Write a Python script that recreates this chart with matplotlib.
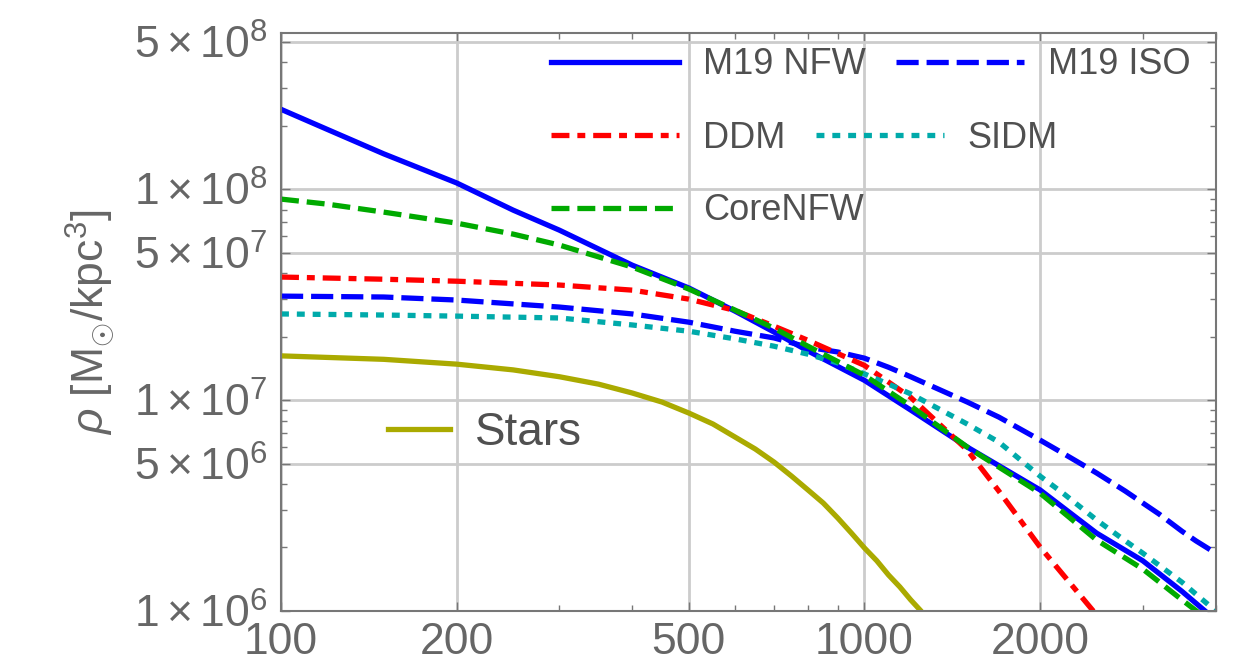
import matplotlib
matplotlib.use('Agg')
import matplotlib.pyplot as plt
from matplotlib.ticker import NullFormatter

plt.rcParams['font.family'] = 'Liberation Sans'
plt.rcParams['mathtext.fontset'] = 'custom'
plt.rcParams['mathtext.rm'] = 'Liberation Sans'
plt.rcParams['mathtext.it'] = 'Liberation Sans:italic'

# density profiles (r in pc, rho in Msun/kpc^3)
r_nfw = [100, 120, 150, 200, 250, 300, 400, 500, 600, 700, 800, 1000, 1200,
         1500, 2000, 2500, 3000, 3500, 4000]
rho_nfw = [2.39e8, 1.92e8, 1.47e8, 1.07e8, 7.95e7, 6.39e7, 4.36e7, 3.40e7,
           2.64e7, 2.10e7, 1.71e7, 1.24e7, 8.97e6, 5.99e6, 3.75e6, 2.34e6,
           1.73e6, 1.24e6, 0.906e6]

r_iso = [100, 150, 200, 300, 400, 500, 600, 700, 800, 900, 1000, 1100, 1200,
         1500, 1700, 2000, 2200, 2500, 2800, 3000, 3200, 3500, 3700, 4000]
rho_iso = [3.11e7, 3.08e7, 2.98e7, 2.76e7, 2.56e7, 2.34e7, 2.12e7, 1.97e7,
           1.78e7, 1.69e7, 1.58e7, 1.43e7, 1.29e7, 9.79e6, 8.30e6, 6.46e6,
           5.55e6, 4.51e6, 3.70e6, 3.25e6, 2.88e6, 2.39e6, 2.15e6, 1.88e6]

r_ddm = [100, 150, 200, 300, 400, 500, 600, 700, 800, 1000, 1200, 1500, 1700,
         2000, 2500]
rho_ddm = [3.83e7, 3.74e7, 3.66e7, 3.51e7, 3.32e7, 3.01e7, 2.66e7, 2.24e7,
           1.92e7, 1.46e7, 1.03e7, 5.80e6, 3.70e6, 2.01e6, 0.957e6]

r_sidm = [100, 150, 200, 300, 400, 500, 600, 700, 800, 900, 1000, 1100, 1200,
          1500, 1700, 2000, 2200, 2500, 2800, 3000, 3500, 4000]
rho_sidm = [2.56e7, 2.53e7, 2.50e7, 2.45e7, 2.27e7, 2.12e7, 1.95e7, 1.80e7,
            1.65e7, 1.50e7, 1.33e7, 1.19e7, 1.07e7, 7.70e6, 6.32e6, 4.36e6,
            3.58e6, 2.70e6, 2.15e6, 1.88e6, 1.37e6, 1.0e6]

r_core = [100, 120, 150, 200, 250, 300, 400, 500, 600, 700, 800, 1000, 1200,
          1500, 2000, 2500, 3000, 3500, 4000]
rho_core = [8.97e7, 8.49e7, 7.78e7, 6.90e7, 6.12e7, 5.43e7, 4.27e7, 3.36e7,
            2.67e7, 2.19e7, 1.80e7, 1.31e7, 9.37e6, 5.99e6, 3.62e6, 2.17e6,
            1.58e6, 1.13e6, 0.85e6]

r_stars = [100, 150, 200, 250, 300, 350, 400, 450, 500, 550, 600, 650, 700,
           750, 800, 850, 900, 950, 1000, 1050, 1100, 1150, 1200, 1250, 1300]
rho_stars = [1.62e7, 1.56e7, 1.48e7, 1.39e7, 1.29e7, 1.19e7, 1.08e7, 9.78e6,
             8.68e6, 7.70e6, 6.68e6, 5.86e6, 5.08e6, 4.36e6, 3.75e6, 3.25e6,
             2.76e6, 2.34e6, 1.99e6, 1.73e6, 1.48e6, 1.30e6, 1.13e6, 1.0e6,
             0.86e6]

xticks = [100, 200, 500, 1000, 2000]
xticklabels = ['100', '200', '500', '1000', '2000']
yticks = [1e6, 5e6, 1e7, 5e7, 1e8, 5e8]
yticklabels = [r'$1\times10^{6}$', r'$5\times10^{6}$', r'$1\times10^{7}$',
               r'$5\times10^{7}$', r'$1\times10^{8}$', r'$5\times10^{8}$']

fig = plt.figure(figsize=(12.39, 6.66), dpi=100)
ax = fig.add_axes([0.2268, 0.0826, 0.7544, 0.8679])

lw = 3.8
h_nfw, = ax.plot(r_nfw, rho_nfw, color='#0000ff', lw=lw)
h_iso, = ax.plot(r_iso, rho_iso, color='#0000ff', lw=lw, dashes=(4.2, 1.5))
h_ddm, = ax.plot(r_ddm, rho_ddm, color='#ff0000', lw=lw,
                 dashes=(3.4, 1.5, 1.5, 1.5))
h_sidm, = ax.plot(r_sidm, rho_sidm, color='#00aaaa', lw=lw, dashes=(1.5, 1.5))
h_core, = ax.plot(r_core, rho_core, color='#00aa00', lw=lw, dashes=(3.4, 1.5))
h_stars, = ax.plot(r_stars, rho_stars, color='#aaaa00', lw=lw)

ax.set_xscale('log')
ax.set_yscale('log')
ax.set_xlim(100, 4000)
ax.set_ylim(1e6, 5.5e8)

ax.set_xticks(xticks)
ax.set_xticklabels(xticklabels)
ax.set_yticks(yticks)
ax.set_yticklabels(yticklabels)
ax.xaxis.set_minor_formatter(NullFormatter())
ax.yaxis.set_minor_formatter(NullFormatter())

ax.set_axisbelow(True)
ax.grid(True, which='major', color='#cccccc', lw=2)
for s in ax.spines.values():
    s.set_color('#777777')
    s.set_linewidth(1.5)

ax.tick_params(which='both', direction='in', top=True, right=True,
               color='#777777', labelcolor='#666666', labelsize=32)
ax.tick_params(which='major', length=6.5, width=1)
ax.tick_params(which='minor', length=4, width=1)
ax.tick_params(axis='x', pad=8)
ax.tick_params(axis='y', pad=10)

ax.set_ylabel(r'$\rho\ [\mathrm{M}_{\odot}/\mathrm{kpc}^{3}]$', fontsize=32,
              color='#666666', labelpad=12)

leg_kw = dict(loc='center left', frameon=False, borderpad=0, borderaxespad=0,
              handlelength=3.55, handletextpad=0.66, columnspacing=0.83,
              fontsize=26, labelcolor='#505050', ncol=2)
leg1 = ax.legend([h_nfw, h_iso], ['M19 NFW', 'M19 ISO'],
                 bbox_to_anchor=(0.289, 0.945), **leg_kw)
ax.add_artist(leg1)
leg2 = ax.legend([h_ddm, h_sidm], ['DDM', 'SIDM'],
                 bbox_to_anchor=(0.289, 0.818), **leg_kw)
ax.add_artist(leg2)
leg3 = ax.legend([h_core], ['CoreNFW'],
                 bbox_to_anchor=(0.289, 0.692), **leg_kw)
ax.add_artist(leg3)
ax.legend([h_stars], ['Stars'], loc='center left', frameon=False,
          borderpad=0, borderaxespad=0, handlelength=1.35, handletextpad=0.54,
          fontsize=33, labelcolor='#505050', bbox_to_anchor=(0.1145, 0.308))

fig.savefig('out.png', dpi=100)
